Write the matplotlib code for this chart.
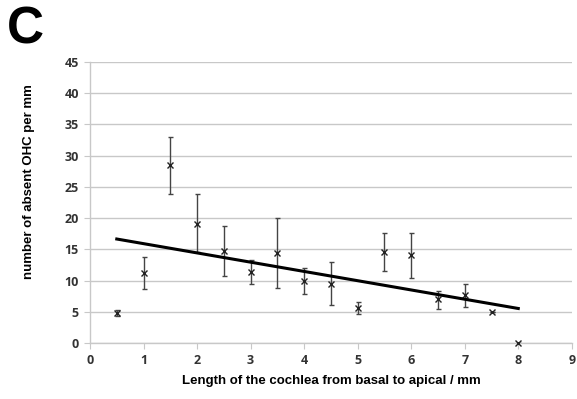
import numpy as np
import matplotlib
matplotlib.use("Agg")
import matplotlib.pyplot as plt

# position along cochlea (mm) and absent OHC per mm, with error bar ends
length_mm = [0.5, 1, 1.5, 2, 2.5, 3, 3.5, 4, 4.5, 5, 5.5, 6, 6.5, 7, 7.5, 8]
absent_ohc = [4.8, 11.2, 28.5, 19.0, 14.7, 11.4, 14.4, 9.9, 9.5, 5.6, 14.6, 14.1, 7.0, 7.7, 5.0, 0.0]
err_up = [0.5, 2.6, 4.5, 4.9, 4.1, 1.9, 5.6, 2.1, 3.5, 1.0, 3.0, 3.5, 1.3, 1.7, 0.0, 0.0]
err_down = [0.5, 2.5, 4.6, 4.4, 4.0, 1.9, 5.6, 2.0, 3.4, 1.0, 3.1, 3.7, 1.5, 1.9, 0.0, 0.0]

x = np.array(length_mm)
y = np.array(absent_ohc)

fig = plt.figure(figsize=(5.77, 3.99), dpi=100)
ax = fig.add_axes([0.156, 0.1404, 0.835, 0.7042])

grid_col = "#c8c8c8"
ax.yaxis.grid(True, color=grid_col, linewidth=1.0)
ax.set_axisbelow(True)

ax.errorbar(x, y, yerr=[err_down, err_up], fmt="none", ecolor="#444444",
            elinewidth=1.0, capsize=1.8, capthick=1.0, zorder=2)
ax.plot(x, y, linestyle="none", marker="x", markersize=4, color="#222222",
        markeredgewidth=1.0, zorder=3, clip_on=False)

# linear trend line
slope, intercept = np.polyfit(x, y, 1)
xt = np.array([x.min(), x.max()])
ax.plot(xt, slope * xt + intercept, color="black", linewidth=2.2, zorder=4)

ax.set_xlim(0, 9)
ax.set_ylim(0, 45)
ax.set_xticks(range(0, 10))
ax.set_yticks(range(0, 50, 5))

for s in ["top", "right"]:
    ax.spines[s].set_visible(False)
for s in ["left", "bottom"]:
    ax.spines[s].set_color(grid_col)
    ax.spines[s].set_linewidth(1.0)
ax.tick_params(axis="both", direction="out", length=4, color=grid_col,
               labelsize=9, labelcolor="#333333", pad=4)
for lab in ax.get_xticklabels() + ax.get_yticklabels():
    lab.set_fontweight("bold")
    lab.set_family("Open Sans")

ax.set_xlabel("Length of the cochlea from basal to apical / mm",
              fontsize=9.5, fontweight="bold", family="Liberation Sans", labelpad=6)
ax.set_ylabel("number of absent OHC per mm",
              fontsize=9.5, fontweight="bold", family="Liberation Sans")
ax.yaxis.set_label_coords(-0.114, 0.573)

fig.text(0.012, 0.985, "C", fontsize=37, fontweight="bold",
         family="Liberation Sans", va="top", ha="left")

fig.savefig("out.png", dpi=100)
